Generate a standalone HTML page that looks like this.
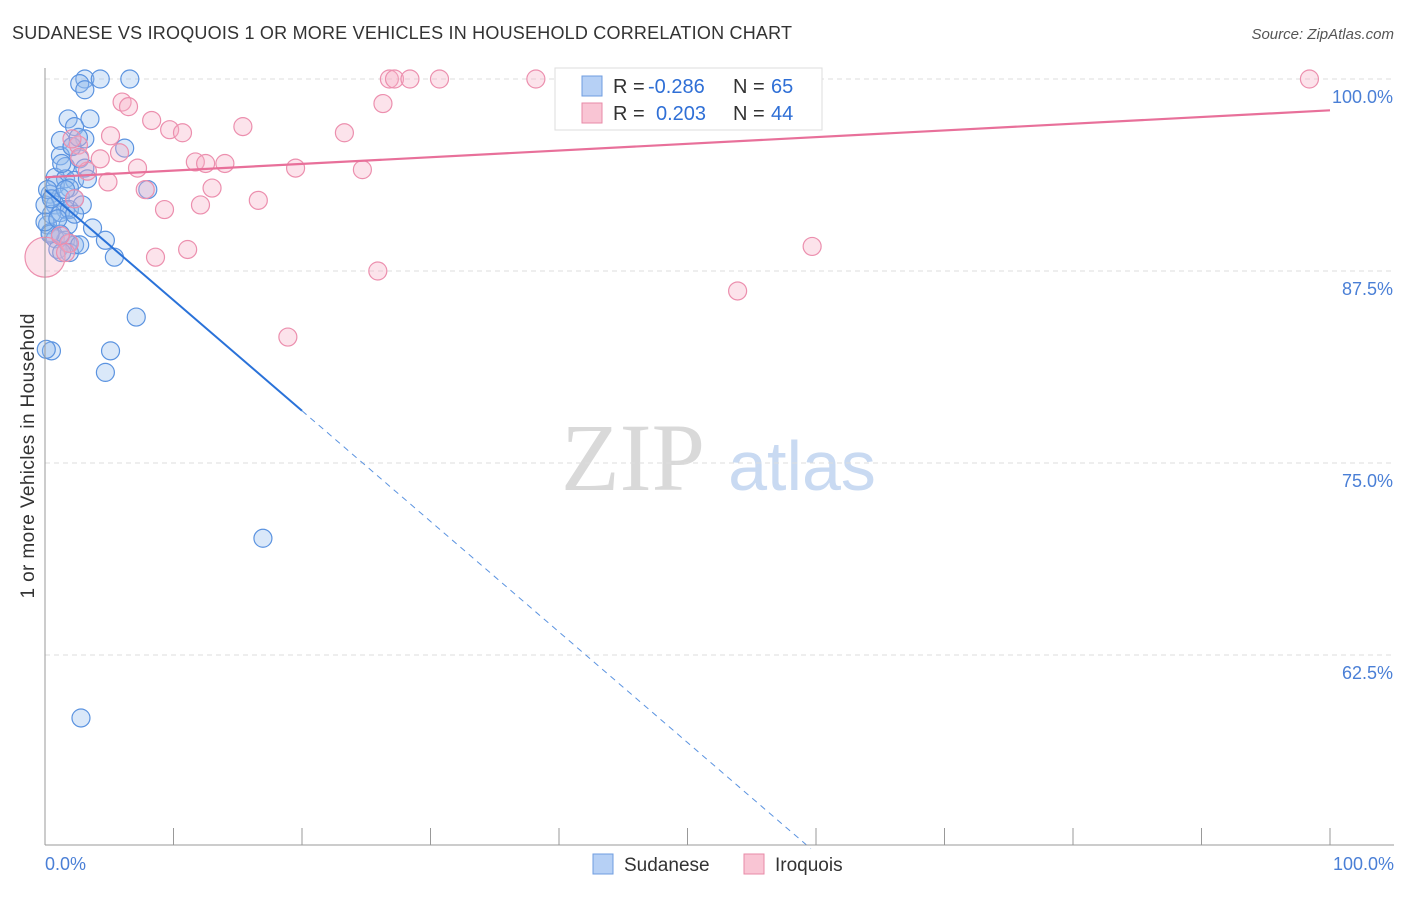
<!DOCTYPE html>
<html><head><meta charset="utf-8"><style>
body{margin:0;background:#fff;font-family:"Liberation Sans",sans-serif}
svg text{font-family:"Liberation Sans",sans-serif}
</style></head><body>
<svg id="c" width="1406" height="892" xmlns="http://www.w3.org/2000/svg">
<text x="12" y="39" font-size="18" fill="#333" textLength="780">SUDANESE VS IROQUOIS 1 OR MORE VEHICLES IN HOUSEHOLD CORRELATION CHART</text>
<text x="1394" y="39" font-size="15" fill="#555" text-anchor="end" font-style="italic">Source: ZipAtlas.com</text>
<text x="633" y="490" font-size="96" fill="#d9d9d9" text-anchor="middle" font-family="Liberation Serif" style="font-family:'Liberation Serif',serif">ZIP</text>
<text x="802" y="490" font-size="70" fill="#c9daf2" text-anchor="middle">atlas</text>
<text transform="translate(34,456) rotate(-90)" font-size="19" fill="#333" text-anchor="middle" textLength="285">1 or more Vehicles in Household</text>
<g id="grid"></g><g id="marks"></g><g id="lines"></g>
<line x1="45" y1="68" x2="45" y2="845" stroke="#999"/>
<line x1="45" y1="845" x2="1394" y2="845" stroke="#999"/>
<text x="45" y="870" font-size="18" fill="#4a7fd6">0.0%</text>
<text x="1394" y="870" font-size="18" fill="#4a7fd6" text-anchor="end">100.0%</text>
<g>
<rect x="555" y="68" width="267" height="62" fill="#fff" stroke="#ddd"/>
<rect x="582" y="76" width="20" height="20" fill="#b6d0f5" stroke="#6f9de0"/>
<rect x="582" y="103" width="20" height="20" fill="#f9c5d4" stroke="#e88aa7"/>
<text x="613" y="93" font-size="20" fill="#333">R = <tspan x="648" fill="#2f6fd6">-0.286</tspan><tspan x="733">N = </tspan><tspan x="771" fill="#2f6fd6">65</tspan></text>
<text x="613" y="120" font-size="20" fill="#333">R = <tspan x="656" fill="#2f6fd6">0.203</tspan><tspan x="733">N = </tspan><tspan x="771" fill="#2f6fd6">44</tspan></text>
</g>
<g>
<rect x="593" y="854" width="20" height="20" fill="#b6d0f5" stroke="#6f9de0"/>
<text x="624" y="871" font-size="19" fill="#333">Sudanese</text>
<rect x="744" y="854" width="20" height="20" fill="#f9c5d4" stroke="#e88aa7"/>
<text x="775" y="871" font-size="19" fill="#333">Iroquois</text>
</g>
</svg>
<script>
const yTicks=[100,87.5,75,62.5];
const yTickLabels=["100.0%","87.5%","75.0%","62.5%"];
const xTicks=[0,10,20,30,40,50,60,70,80,90,100];
const sudX=[3.1,4.3,6.6,2.7,3.1,1.8,3.5,2.3,3.1,1.2,6.2,2.1,1.2,2.7,1.6,3.1,0.8,1.6,2.3,3.3,0.8,1.9,8.0,0.4,1.2,2.3,0.8,1.6,0.5,1.2,1.9,0.2,1.8,3.7,0.4,0.8,1.6,2.3,4.7,1.0,1.8,1.9,5.4,1.3,0.4,0,0,7.1,5.1,0.5,0.1,4.7,16.96,2.8,1.2,2.7,0.2,0.5,1.3,2.1,2.6,1.0,1.6,2.9,2.3];
const sudY=[100,100,100,99.7,99.3,97.4,97.4,96.9,96.1,96.0,95.5,95.6,95.0,94.8,94.3,94.2,93.6,93.5,93.4,93.5,93.1,92.9,92.8,92.5,92.3,92.2,91.8,91.5,91.2,91.3,91.5,90.5,90.5,90.3,90.0,89.6,89.5,89.2,89.5,88.9,89.3,88.7,88.4,88.7,89.9,90.7,91.8,84.5,82.3,82.3,82.4,80.9,70.1,58.4,89.9,89.2,92.8,92.2,94.5,95.6,96.2,90.9,92.8,91.8,91.2];
const iroX=[0,6.0,6.5,5.1,8.3,9.7,10.7,15.4,5.8,4.3,3.3,7.2,11.7,12.5,14.0,2.6,4.9,7.8,9.3,13.0,12.1,16.6,19.5,23.3,24.7,26.3,26.8,27.2,28.4,30.7,38.2,98.4,8.6,11.1,25.9,53.9,59.7,18.9,1.9,1.2,2.3,2.7,2.1,1.6];
const iroY=[88.4,98.5,98.2,96.3,97.3,96.7,96.5,96.9,95.2,94.8,94.0,94.2,94.6,94.5,94.5,95.7,93.3,92.8,91.5,92.9,91.8,92.1,94.2,96.5,94.1,98.4,100,100,100,100,100,100,88.4,88.9,87.5,86.2,89.1,83.2,89.3,89.8,92.2,94.9,96.1,88.7];
const X=v=>45+v*12.85, Y=v=>79+(100-v)*15.36;
const NS="http://www.w3.org/2000/svg";
function mk(tag,attrs,parent){const e=document.createElementNS(NS,tag);for(const k in attrs)e.setAttribute(k,attrs[k]);parent.appendChild(e);return e;}
const grid=document.getElementById('grid'),marks=document.getElementById('marks'),lines=document.getElementById('lines'),svg=document.getElementById('c');
yTicks.forEach((t,i)=>{
 const g=mk('line',{x1:45,x2:1394,y1:Y(t),y2:Y(t),stroke:'#ddd','stroke-dasharray':'5,4'},grid);
 
 
 const l=mk('text',{x:1393,y:Y(t)+24,'font-size':18,fill:'#4a7fd6','text-anchor':'end'},svg);
 l.textContent=yTickLabels[i];
 
 
});
xTicks.forEach(t=>{
 const k=mk('line',{x1:X(t),x2:X(t),y1:828,y2:845,stroke:'#999'},grid);
 
 
});
sudX.forEach((x,i)=>{
 const c=mk('circle',{cx:X(x),cy:Y(sudY[i]),r:9,fill:'rgba(150,188,238,0.35)',stroke:'#5b93e0','stroke-width':1.2},marks);
 
 
});
iroX.forEach((x,i)=>{
 const c=mk('circle',{cx:X(x),cy:Y(iroY[i]),r:i===0?20:9,fill:'rgba(245,175,198,0.35)',stroke:'#ec8fae','stroke-width':1.2},marks);
 
 
});
const sb=[92.8,-0.72], pb=[93.6,0.0436];
const s1=mk('line',{x1:X(0),y1:Y(sb[0]),x2:X(20),y2:Y(sb[0]+sb[1]*20),stroke:'#2a72d9','stroke-width':2},lines);


const s2=mk('line',{x1:X(20),y1:Y(sb[0]+sb[1]*20),x2:X(59.6),y2:Y(sb[0]+sb[1]*59.6),stroke:'#5b93e0','stroke-width':1,'stroke-dasharray':'6,5'},lines);


const p1=mk('line',{x1:X(0),y1:Y(pb[0]),x2:X(100),y2:Y(pb[0]+pb[1]*100),stroke:'#e8709a','stroke-width':2.2},lines);


</script>
</body></html>
